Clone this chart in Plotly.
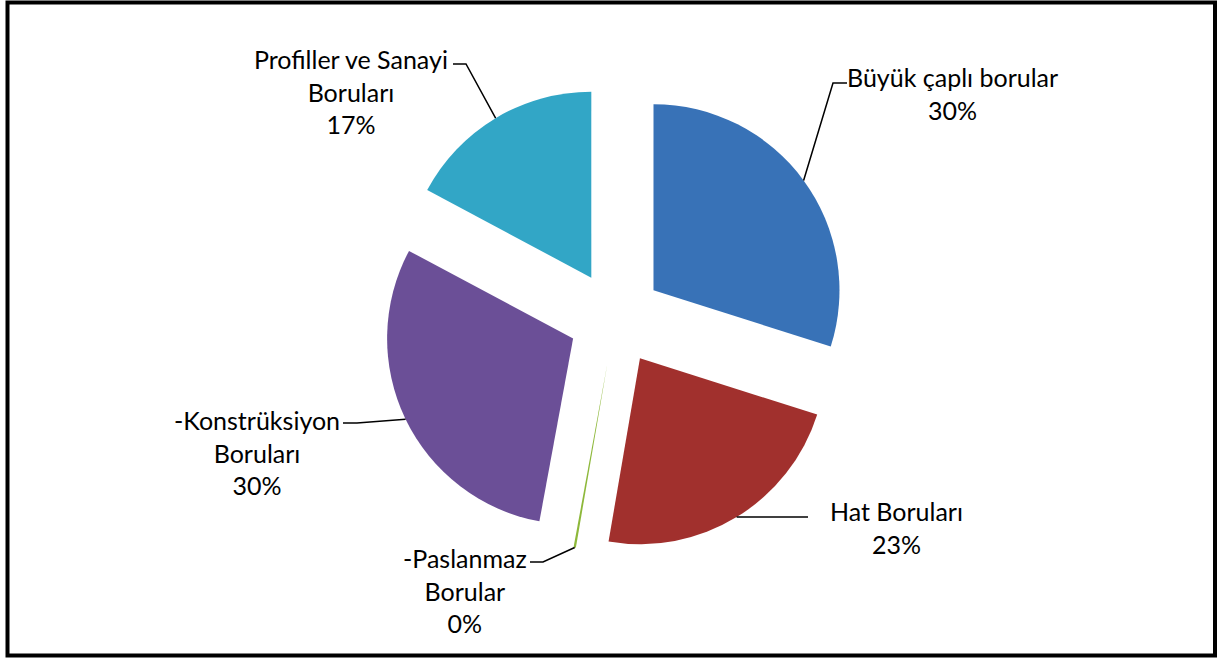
import math
import plotly.graph_objects as go

# ---- data ----
categories = ["Büyük çaplı borular", "Hat Boruları", "-Paslanmaz Borular",
              "-Konstrüksiyon Boruları", "Profiller ve Sanayi Boruları"]
display_labels = ["Büyük çaplı borular", "Hat Boruları", "-Paslanmaz<br>Borular",
                  "-Konstrüksiyon<br>Boruları", "Profiller ve Sanayi<br>Boruları"]
values = [29.9, 22.8, 0.2, 29.9, 17.2]
colors = ["#3872B7", "#A1302D", "#8DB83A", "#6B4F97", "#32A6C6"]

# ---- layout geometry (pixels) ----
W, H = 1218, 659
CX, CY = 615.5, 318.0      # pie centre
R = 186.0                  # pie radius
PULL = 0.253               # explode fraction

half = R * (1 + PULL)
dom_x = [(CX - half * 1.3) / W, (CX + half * 1.3) / W]
dom_y = [1 - (CY + half) / H, 1 - (CY - half) / H]

def px(x):
    return x / W

def py(y):
    return 1 - y / H

# label block centres and leader-line elbows (layout, pixels)
label_pos = [(952, 93), (896, 527), (465, 590), (257, 452), (351, 91)]
leader_elbows = [
    [(833, 83), (847, 83)],
    [(808, 517)],
    [(543, 562), (530, 562)],
    [(357, 423), (343, 423)],
    [(466, 64), (453, 64)],
]

fig = go.Figure(go.Pie(
    labels=categories, values=values, sort=False, direction="clockwise",
    rotation=0, pull=[PULL] * len(values),
    marker=dict(colors=colors, line=dict(width=0)),
    textinfo="none", hoverinfo="label+percent",
    domain=dict(x=dom_x, y=dom_y), showlegend=False,
))

total = sum(values)
shapes = []
annotations = []
cum = 0.0
for i, v in enumerate(values):
    mid = (cum + v / 2) / total * 2 * math.pi
    cum += v
    sx = CX + R * PULL * math.sin(mid) + R * math.sin(mid)
    sy = CY - R * PULL * math.cos(mid) - R * math.cos(mid)
    pts = [(sx, sy)] + leader_elbows[i]
    path = "M " + " L ".join(f"{px(x):.5f},{py(y):.5f}" for x, y in pts)
    shapes.append(dict(type="path", path=path, xref="paper", yref="paper",
                       line=dict(color="black", width=1.5)))
    pct = round(v / total * 100)
    lx, ly = label_pos[i]
    annotations.append(dict(
        x=px(lx), y=py(ly), xref="paper", yref="paper",
        text=f"{display_labels[i]}<br>{pct}%", showarrow=False,
        xanchor="center", yanchor="middle", align="center",
        font=dict(family="Lato, Carlito, Calibri, sans-serif", size=25, color="black"),
    ))

# outer frame
shapes.append(dict(type="rect", xref="paper", yref="paper",
                   x0=px(7.5), x1=px(1215), y0=py(655.5), y1=py(2.5),
                   line=dict(color="black", width=4)))

fig.update_layout(
    width=W, height=H, margin=dict(l=0, r=0, t=0, b=0),
    paper_bgcolor="white", plot_bgcolor="white",
    shapes=shapes, annotations=annotations,
)

fig.write_html(
    "out.html",
    config={"displayModeBar": False},
    post_script="document.body.style.margin='0';document.body.style.overflow='hidden';",
)
